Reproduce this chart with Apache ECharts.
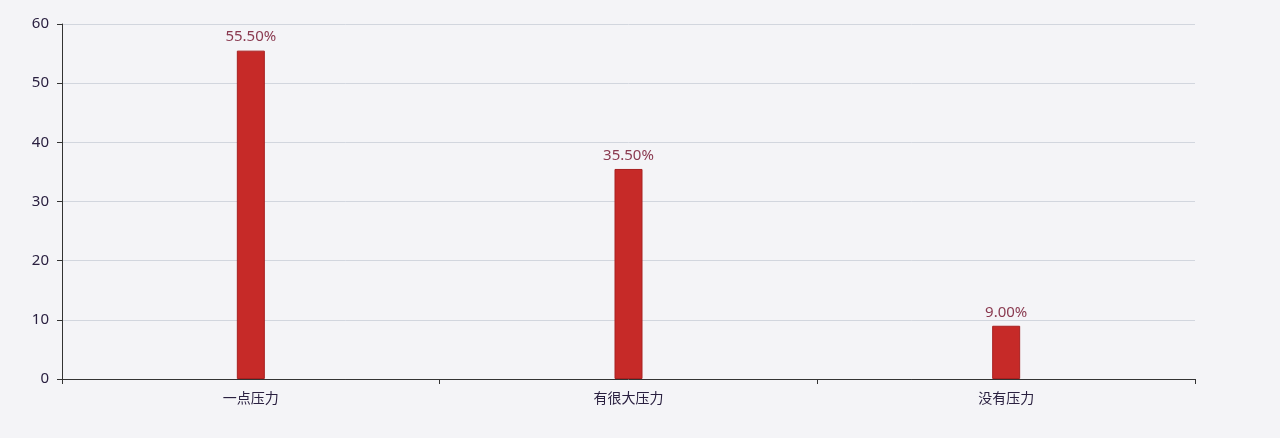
<!DOCTYPE html>
<html><head><meta charset="utf-8">
<script src="https://cdn.jsdelivr.net/npm/echarts@6/dist/echarts.min.js"></script>
<style>html,body{margin:0;padding:0;background:#f4f4f7;}#c{width:1280px;height:438px;}</style>
</head><body><div id="c"></div>
<script>
const categories = ['一点压力', '有很大压力', '没有压力'];
const values = [55.5, 35.5, 9.0];
const yTicks = [0, 10, 20, 30, 40, 50, 60];

const chart = echarts.init(document.getElementById('c'));
chart.setOption({
  backgroundColor: '#f4f4f7',
  animation: false,
  grid: {left: 62, right: 85, top: 24, bottom: 59},
  xAxis: {
    type: 'category', data: categories,
    axisLine: {lineStyle: {color: '#333', width: 1}},
    axisTick: {show: true, alignWithLabel: false, lineStyle: {color: '#333'}},
    axisLabel: {color: '#2a2040', fontSize: 14, margin: 12, fontFamily: 'Noto Sans CJK SC'}
  },
  yAxis: {
    type: 'value', min: yTicks[0], max: yTicks[yTicks.length-1], interval: 10,
    axisLine: {show: true, lineStyle: {color: '#333', width: 1}},
    axisTick: {show: true, lineStyle: {color: '#333'}},
    axisLabel: {color: '#2a2040', fontSize: 15, margin: 13, fontFamily: 'Noto Sans'},
    splitLine: {lineStyle: {color: '#d2d6de'}}
  },
  series: [{
    type: 'bar', data: values, barWidth: 28,
    itemStyle: {color: '#c62a28', borderColor: '#a82020', borderWidth: 1},
    label: {show: true, position: 'top', distance: 6, color: '#8a3a50', fontSize: 15, fontFamily: 'Noto Sans',
      formatter: p => p.value.toFixed(2) + '%'}
  }]
});
</script></body></html>
